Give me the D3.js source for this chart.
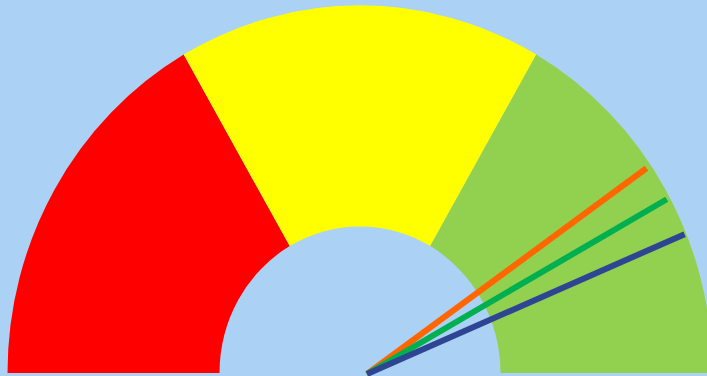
<!DOCTYPE html>
<html><head><meta charset="utf-8">
<script src="https://cdn.jsdelivr.net/npm/d3@7"></script>
<style>html,body{margin:0;padding:0;background:#abd1f4;overflow:hidden}</style>
</head><body>
<svg id="chart" width="707" height="376"></svg>
<script>
// Gauge bands (value ranges on a 0–100 scale)
const bandNames = ["Low", "Medium", "High"];
const bandStarts = [0, 33.33, 66.67];
const bandEnds = [33.33, 66.67, 100];
const bandColors = ["#ff0000", "#ffff00", "#92d050"];
// Needles
const needleNames = ["A", "B", "C"];
const needleValues = [79.8, 83.2, 86.8];
const needleColors = ["#ff6600", "#00b050", "#2e4593"];

const W = 707, H = 376;
const svg = d3.select("#chart");
svg.append("rect").attr("width", W).attr("height", H).attr("fill", "#abd1f4");

const cx = 360, cy = 373, k = 1.043;
const outerR = 352.5, innerR = 140.5;

// value -> angle (d3.arc convention: 0 at top, clockwise)
const ang = d3.scaleLinear().domain([0, 100]).range([-Math.PI / 2, Math.PI / 2]);
const arc = d3.arc().innerRadius(innerR).outerRadius(outerR);

const g = svg.append("g").attr("transform", `translate(${cx},${cy}) scale(1,${k})`);
g.selectAll("path.band").data(bandNames).join("path")
  .attr("class", "band")
  .attr("d", (d, i) => arc({startAngle: ang(bandStarts[i]), endAngle: ang(bandEnds[i])}))
  .attr("fill", (d, i) => bandColors[i]);

// needles
const nx = 367, ny = 374, L = 347;
// value -> angle measured from the left horizontal (radians)
const nAng = d3.scaleLinear().domain([0, 100]).range([Math.PI, 0]);
svg.selectAll("line.needle").data(needleNames).join("line")
  .attr("class", "needle")
  .attr("x1", nx).attr("y1", ny)
  .attr("x2", (d, i) => nx + L * Math.cos(nAng(needleValues[i])))
  .attr("y2", (d, i) => ny - L * Math.sin(nAng(needleValues[i])))
  .attr("stroke", (d, i) => needleColors[i])
  .attr("stroke-width", 6);
</script>
</body></html>
